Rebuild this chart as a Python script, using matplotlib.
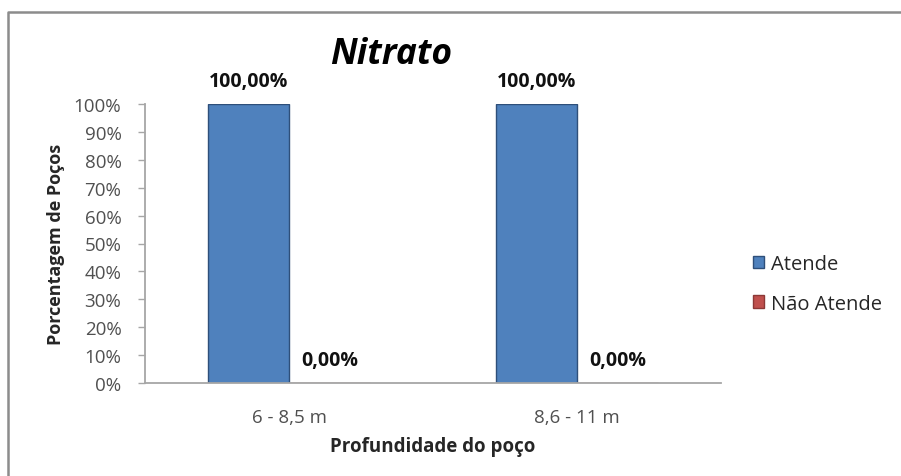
import matplotlib
matplotlib.use("Agg")
import matplotlib.pyplot as plt
from matplotlib.lines import Line2D
from matplotlib.patches import Patch
import numpy as np

plt.rcParams['font.family'] = ['Open Sans', 'DejaVu Sans']

title = "Nitrato"
categories = ["6 - 8,5 m", "8,6 - 11 m"]
series_names = ["Atende", "Não Atende"]
atende = [100.0, 100.0]
nao_atende = [0.0, 0.0]
yticks = [0, 10, 20, 30, 40, 50, 60, 70, 80, 90, 100]
xlabel = "Profundidade do poço"
ylabel = "Porcentagem de Poços"

blue = "#4F81BD"
blue_edge = "#2E4F7A"
red = "#C0504D"
red_edge = "#8C3836"
axis_gray = "#A6A6A6"
tick_text = "#505050"

fig = plt.figure(figsize=(9.01, 4.77), dpi=100)
ax = fig.add_axes([145 / 901, 1 - 384 / 477, (721 - 145) / 901, (384 - 105) / 477])

x = np.arange(len(categories))
w = 0.282
b1 = ax.bar(x - w / 2, atende, w, color=blue, edgecolor=blue_edge, linewidth=1.0, label=series_names[0])
b2 = ax.bar(x + w / 2, nao_atende, w, color=red, edgecolor=red_edge, linewidth=1.0, label=series_names[1])

def fmt(v):
    return f"{v:.2f}".replace(".", ",") + "%"

for bars, vals in ((b1, atende), (b2, nao_atende)):
    for rect, v in zip(bars, vals):
        ax.annotate(fmt(v), (rect.get_x() + rect.get_width() / 2, v),
                    xytext=(0, 16.5), textcoords="offset points",
                    ha="center", va="center", fontsize=14, fontweight="bold",
                    color="#111111")

ax.set_xlim(-0.5, len(categories) - 0.5)
ax.set_ylim(0, 100)
ax.set_yticks(yticks)
ax.set_yticklabels([f"{t}%" for t in yticks])
ax.set_xticks(x)
ax.set_xticklabels(categories)

for s in ("top", "right"):
    ax.spines[s].set_visible(False)
for s in ("left", "bottom"):
    ax.spines[s].set_color(axis_gray)
    ax.spines[s].set_linewidth(1.3)

ax.tick_params(axis="y", direction="out", length=5, width=1, color=axis_gray,
               labelsize=13.5, labelcolor=tick_text, pad=12)
ax.tick_params(axis="x", which="major", length=0, labelsize=13.5, labelcolor=tick_text, pad=18)

ax.set_xlabel(xlabel, fontsize=13.5, fontweight="bold", color="#262626", labelpad=7)
ax.set_ylabel(ylabel, fontsize=13, fontweight="bold", color="#262626", labelpad=6)

fig.text(391 / 901, 1 - 55 / 477, title, ha="center", va="center",
         fontsize=25.5, fontweight="bold", fontstyle="italic", color="#000000")

handles = [Patch(facecolor=blue, edgecolor=blue_edge), Patch(facecolor=red, edgecolor=red_edge)]
fig.legend(handles, series_names, loc="center left", bbox_to_anchor=(735 / 901, 1 - 285 / 477),
           frameon=False, fontsize=14.5, handlelength=0.55, handleheight=0.55,
           handletextpad=0.35, labelspacing=0.95, labelcolor="#262626")

# chart frame
fig.add_artist(Line2D([8 / 901, 8 / 901, 1.0], [0.0, 1 - 13 / 477, 1 - 13 / 477],
                      transform=fig.transFigure, color="#8C8C8C", linewidth=1.8))

fig.savefig("out.png", dpi=100)
